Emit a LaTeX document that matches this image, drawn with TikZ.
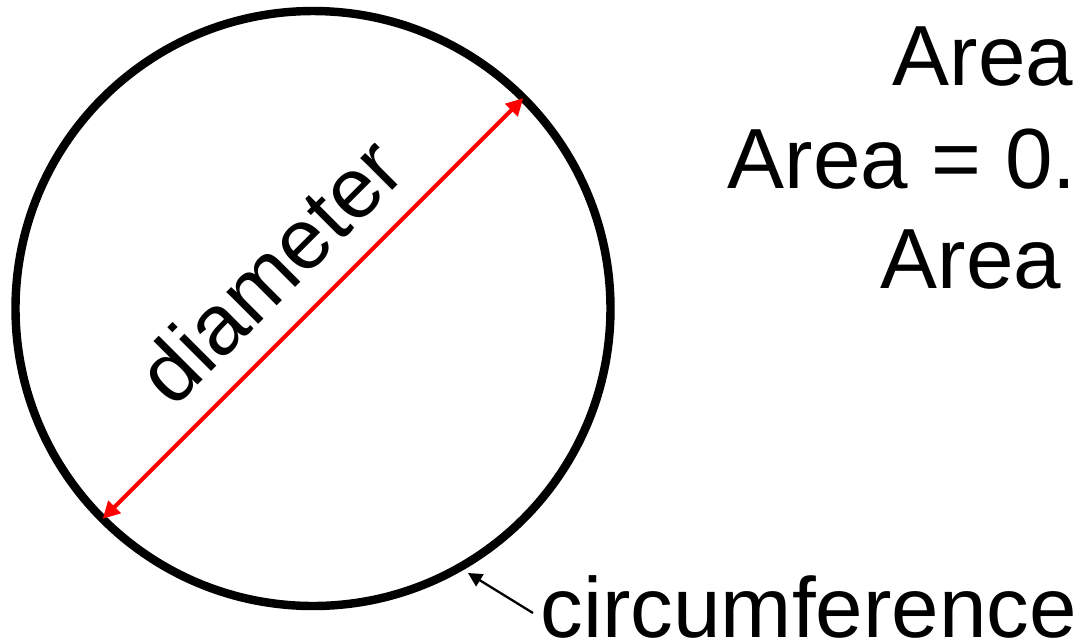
\documentclass[tikz,border=0pt]{standalone}
\usepackage{fontspec}
\setmainfont{Liberation Sans}
\usetikzlibrary{arrows.meta}
\begin{document}
\begin{tikzpicture}[x=0.1mm, y=-0.1mm,
    lbl/.style={inner sep=0pt, anchor=base west, font=\fontsize{24.3}{29}\selectfont},
    tip/.style={Triangle[length=#1,width=#1]}]
    \useasboundingbox (0,0) rectangle (1080,642);
    \clip (0,0) rectangle (1080,642);

    \node[draw, circle, line width=2.4pt, minimum size=59.5mm, inner sep=0pt, outer sep=0pt] (ring) at (313,308.5) {};
    \draw[red, line width=1.15pt, {Triangle[length=1.7mm,width=1.7mm]}-{Triangle[length=1.7mm,width=1.7mm]}] (ring.225) -- (ring.45);
    \node[lbl, anchor=base, rotate=45] (dlabel) at (291.4,291.7) {diameter};

    \node[lbl] (area1) at (892,85) {Area};
    \node[lbl] (area2) at (727,188) {Area = 0.7};
    \node[lbl] (area3) at (880,288) {Area};

    \node[lbl] (clabel) at (540,637) {circumference};
    \coordinate (ctail) at (533,613);
    \coordinate (ctip) at (468,573);
    \draw[line width=0.65pt, -{Triangle[length=1.4mm,width=1.4mm]}] (ctail) -- (ctip);
\end{tikzpicture}
\end{document}
